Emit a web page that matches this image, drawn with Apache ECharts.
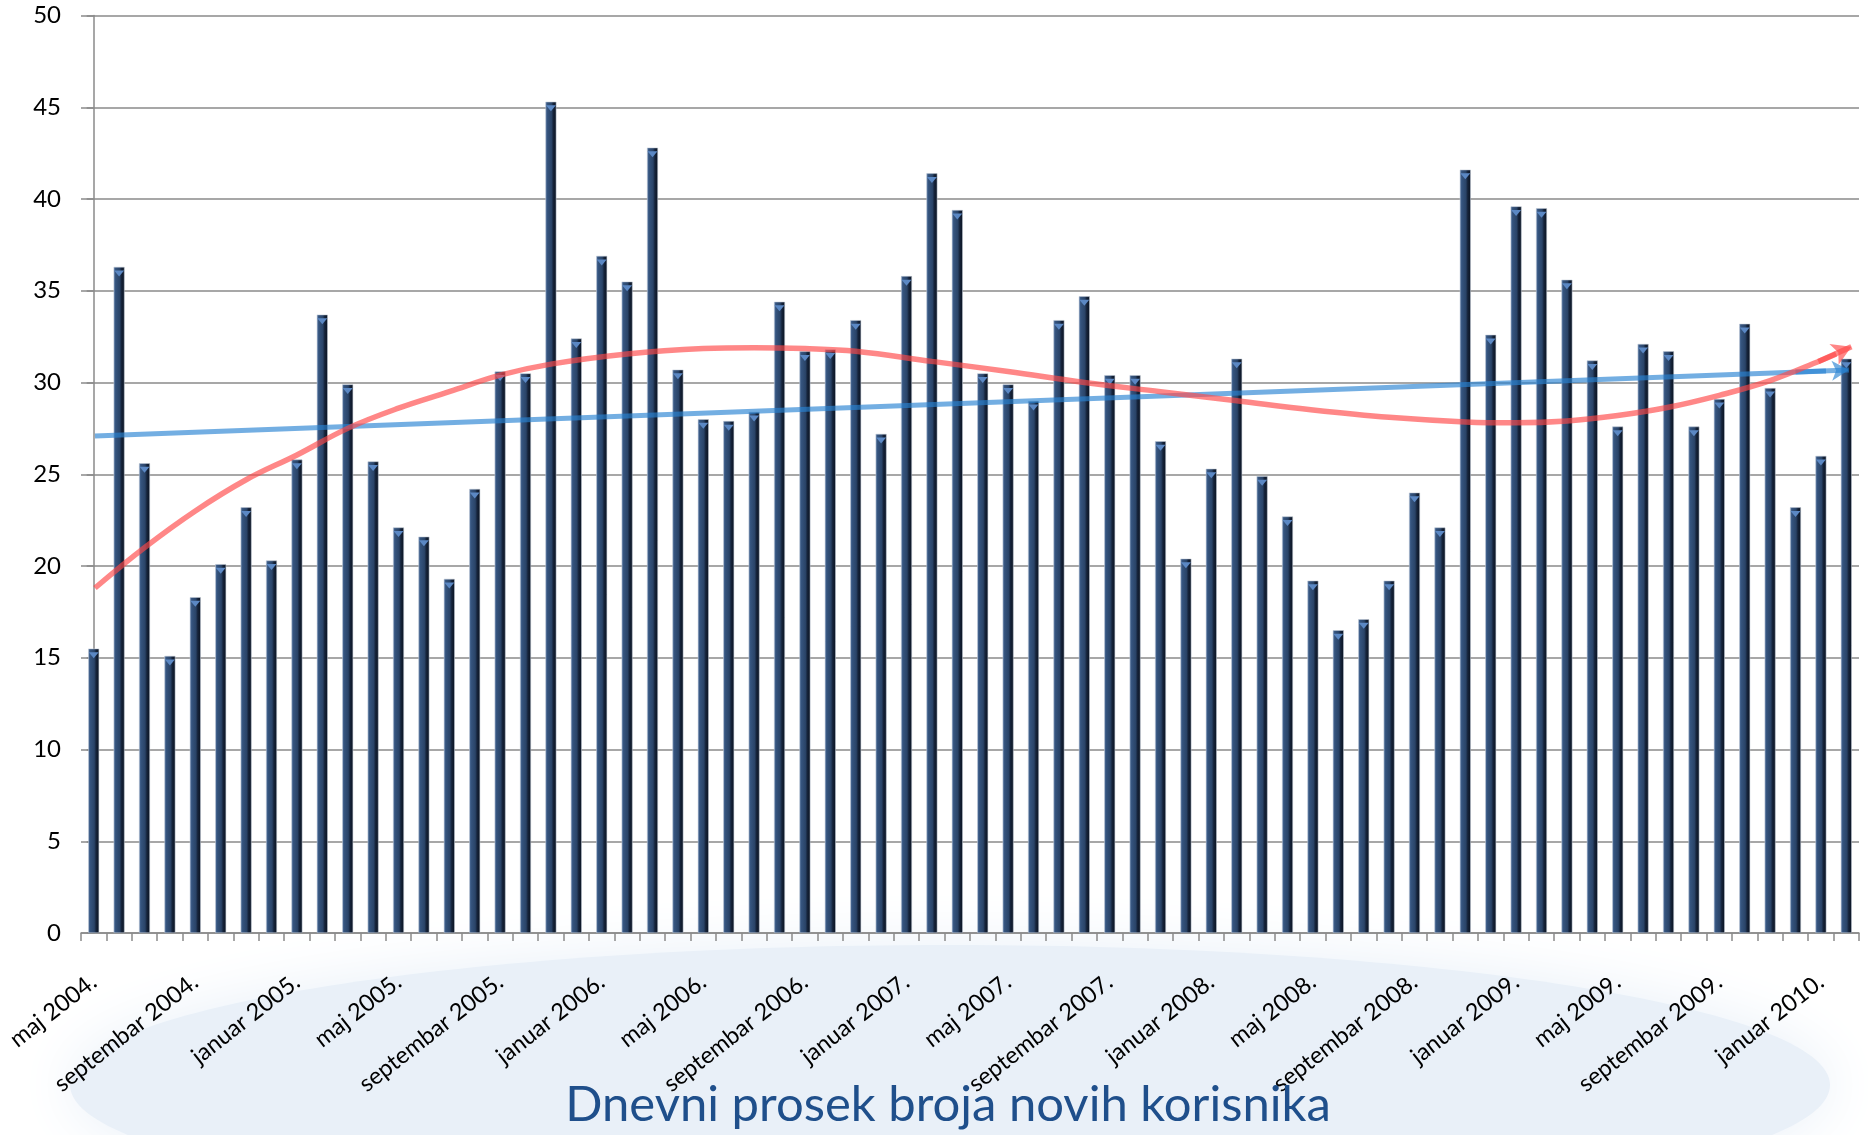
<!DOCTYPE html>
<html>
<head>
<meta charset="utf-8">
<script src="https://cdn.jsdelivr.net/npm/echarts@6/dist/echarts.min.js"></script>
<style>
html,body{margin:0;padding:0;background:#fff;}
#chart{width:1868px;height:1135px;}
</style>
</head>
<body>
<div id="chart"></div>
<script>
const categories = [
 'maj 2004.','jun 2004.','jul 2004.','avgust 2004.','septembar 2004.','oktobar 2004.','novembar 2004.','decembar 2004.',
 'januar 2005.','februar 2005.','mart 2005.','april 2005.','maj 2005.','jun 2005.','jul 2005.','avgust 2005.','septembar 2005.','oktobar 2005.','novembar 2005.','decembar 2005.',
 'januar 2006.','februar 2006.','mart 2006.','april 2006.','maj 2006.','jun 2006.','jul 2006.','avgust 2006.','septembar 2006.','oktobar 2006.','novembar 2006.','decembar 2006.',
 'januar 2007.','februar 2007.','mart 2007.','april 2007.','maj 2007.','jun 2007.','jul 2007.','avgust 2007.','septembar 2007.','oktobar 2007.','novembar 2007.','decembar 2007.',
 'januar 2008.','februar 2008.','mart 2008.','april 2008.','maj 2008.','jun 2008.','jul 2008.','avgust 2008.','septembar 2008.','oktobar 2008.','novembar 2008.','decembar 2008.',
 'januar 2009.','februar 2009.','mart 2009.','april 2009.','maj 2009.','jun 2009.','jul 2009.','avgust 2009.','septembar 2009.','oktobar 2009.','novembar 2009.','decembar 2009.',
 'januar 2010.','februar 2010.'
];
const values = [
 15.5, 36.3, 25.6, 15.1, 18.3, 20.1, 23.2, 20.3,
 25.8, 33.7, 29.9, 25.7, 22.1, 21.6, 19.3, 24.2, 30.6, 30.5, 45.3, 32.4,
 36.9, 35.5, 42.8, 30.7, 28.0, 27.9, 28.4, 34.4, 31.7, 31.8, 33.4, 27.2,
 35.8, 41.4, 39.4, 30.5, 29.9, 29.0, 33.4, 34.7, 30.4, 30.4, 26.8, 20.4,
 25.3, 31.3, 24.9, 22.7, 19.2, 16.5, 17.1, 19.2, 24.0, 22.1, 41.6, 32.6,
 39.6, 39.5, 35.6, 31.2, 27.6, 32.1, 31.7, 27.6, 29.1, 33.2, 29.7, 23.2,
 26.0, 31.3
];
const yTicks = [0, 5, 10, 15, 20, 25, 30, 35, 40, 45, 50];
// trend lines: [position in months from maj 2004, value]
const linearTrend = [[0.05, 27.08], [68.2, 30.62]];
const linearArrow = [[67.0, 30.57], [69.1, 30.68]];
const polyTrend = [
 [0.05, 18.8], [2, 21.0], [4, 23.0], [6, 24.7], [8, 26.05], [10, 27.5], [12, 28.6], [14, 29.5],
 [16, 30.4], [18, 31.0], [21, 31.55], [24, 31.85], [26, 31.9], [28, 31.85], [30, 31.7], [33, 31.15],
 [36, 30.6], [39, 30.0], [42, 29.5], [45, 29.0], [48, 28.5], [51, 28.1], [54, 27.85], [56, 27.8],
 [58, 27.9], [60, 28.2], [62, 28.65], [64, 29.3], [66, 30.1], [68, 31.2], [68.6, 31.55]
];
const polyArrow = [[67.9, 31.15], [69.2, 31.95]];

const chart = echarts.init(document.getElementById('chart'), null, {renderer: 'canvas'});
const FONT = 'Lato, "Open Sans", sans-serif';
const barGradient = new echarts.graphic.LinearGradient(0, 0, 1, 0, [
  {offset: 0, color: '#5878a4'},
  {offset: 0.18, color: '#35547e'},
  {offset: 0.55, color: '#2a4468'},
  {offset: 0.72, color: '#15233a'},
  {offset: 1, color: '#0b1320'}
]);

chart.setOption({
  backgroundColor: '#ffffff',
  animation: false,
  graphic: [
    {type: 'ellipse', z: -10, silent: true, shape: {cx: 950, cy: 1085, rx: 880, ry: 140},
     style: {fill: '#e9f0f8', shadowBlur: 60, shadowColor: '#e9f0f8'}}
  ],
  title: {
    text: 'Dnevni prosek broja novih korisnika',
    left: 943,
    textAlign: 'center',
    bottom: 0,
    textStyle: {fontFamily: FONT, fontSize: 49, fontWeight: 'normal', color: '#1f4f8b'}
  },
  grid: {left: 81, right: 9, top: 15.5, bottom: 202, containLabel: false},
  xAxis: [
    {
      type: 'category', data: categories, boundaryGap: true,
      axisLine: {show: true, lineStyle: {color: '#8a8a8a', width: 1.5}},
      axisTick: {show: true, interval: 0, length: 8, lineStyle: {color: '#8a8a8a', width: 1.5}},
      axisLabel: {interval: 3, rotate: 38, margin: 46, fontFamily: FONT, fontSize: 23.5, color: '#000'},
      splitLine: {show: false}
    },
    {
      type: 'value', min: -0.5, max: 69.5, show: false
    }
  ],
  yAxis: {
    type: 'value', min: 0, max: 50, interval: 5,
    axisLine: {show: true, lineStyle: {color: '#8a8a8a', width: 1.5}},
    axisTick: {show: true, length: 7, lineStyle: {color: '#8a8a8a', width: 1.5}},
    axisLabel: {margin: 20, fontFamily: FONT, fontSize: 24, color: '#000',
      formatter: v => yTicks.indexOf(v) >= 0 ? String(v) : ''},
    splitLine: {show: true, lineStyle: {color: '#8a8a8a', width: 1.5}}
  },
  series: [
    {
      type: 'bar', data: values, barWidth: 11, barGap: '-100%', z: 2,
      itemStyle: {color: barGradient, borderColor: 'rgba(190,200,212,0.9)', borderWidth: 0.6}
    },
    {
      type: 'pictorialBar', data: values, barWidth: 11, barGap: '-100%', z: 3,
      symbol: 'triangle', symbolRotate: 180, symbolSize: [10, 6], symbolPosition: 'end',
      symbolOffset: [0, '60%'], itemStyle: {color: '#5b88c4'}
    },
    {
      type: 'line', xAxisIndex: 1, data: linearTrend, showSymbol: false, symbol: 'none', z: 5,
      lineStyle: {color: 'rgba(40,130,210,0.65)', width: 5},
      markLine: {silent: true, symbol: ['none', 'arrow'], symbolSize: [15, 17], label: {show: false},
        lineStyle: {color: 'rgba(40,130,210,0.65)', width: 5, type: 'solid'},
        data: [[{coord: linearArrow[0]}, {coord: linearArrow[1]}]]}
    },
    {
      type: 'line', xAxisIndex: 1, data: polyTrend, smooth: 0.4, showSymbol: false, symbol: 'none', z: 6,
      lineStyle: {color: 'rgba(255,70,70,0.65)', width: 5.5},
      markLine: {silent: true, symbol: ['none', 'arrow'], symbolSize: [17, 19], label: {show: false},
        lineStyle: {color: 'rgba(255,70,70,0.65)', width: 5.5, type: 'solid'},
        data: [[{coord: polyArrow[0]}, {coord: polyArrow[1]}]]}
    }
  ]
});
</script>
</body>
</html>
